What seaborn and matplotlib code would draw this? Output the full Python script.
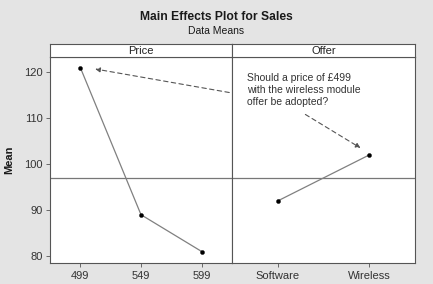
import numpy as np
import pandas as pd
import seaborn as sns
import matplotlib.pyplot as plt

# data means
price_levels = ['499', '549', '599']
price_means = [121, 89, 81]
offer_levels = ['Software', 'Wireless']
offer_means = [92, 102]
grand_mean = 97

sns.set_theme(style='white')
plt.rcParams['font.family'] = ['Liberation Sans', 'DejaVu Sans']

fig = plt.figure(figsize=(4.33, 2.84), dpi=100, facecolor='#e4e4e4')

fig.text(0.5, 0.94, 'Main Effects Plot for Sales', ha='center', va='center',
         fontsize=8.7, fontweight='bold', color='#1a1a1a')
fig.text(0.5, 0.892, 'Data Means', ha='center', va='center', fontsize=7.5, color='#1a1a1a')

bottom, top, strip_top = 1 - 263 / 284, 1 - 57 / 284, 1 - 44 / 284
x0, x1, x2 = 50 / 433, 232 / 433, 415 / 433

panels = [('Price', price_levels, price_means, x0, x1 - x0),
          ('Offer', offer_levels, offer_means, x1, x2 - x1)]
axes = []
for name, levels, means, left, width in panels:
    ax = fig.add_axes([left, bottom, width, top - bottom])
    df = pd.DataFrame({'level': levels, 'mean': means})
    ax.axhline(grand_mean, color='#777777', lw=0.9, zorder=1)
    sns.lineplot(data=df, x='level', y='mean', ax=ax, color='#808080', lw=0.9,
                 sort=False, zorder=2)
    sns.scatterplot(data=df, x='level', y='mean', ax=ax, color='black', s=9,
                    edgecolor='black', zorder=3)
    ax.set_xlim(-0.5, len(levels) - 0.5)
    ax.set_ylim(78.5, 123.3)
    ax.set_xlabel('')
    ax.set_ylabel('')
    ax.set_facecolor('white')
    for s in ax.spines.values():
        s.set_color('#555555')
        s.set_linewidth(0.8)
    ax.tick_params(axis='x', length=3, width=0.6, color='#555555', labelsize=8,
                   labelcolor='#333333', pad=3, bottom=True)
    ax.tick_params(axis='y', length=3, width=0.6, color='#555555', labelsize=8,
                   labelcolor='#333333', pad=2, left=True)
    ax.set_yticks([80, 90, 100, 110, 120])
    # strip header
    sax = fig.add_axes([left, top, width, strip_top - top])
    sax.set_xticks([])
    sax.set_yticks([])
    sax.set_facecolor('white')
    for s in sax.spines.values():
        s.set_color('#555555')
        s.set_linewidth(0.8)
    sax.text(0.5, 0.45, name, ha='center', va='center', fontsize=8, color='#222222',
             transform=sax.transAxes)
    axes.append(ax)

axes[1].tick_params(axis='y', left=False, labelleft=False)
axes[0].set_ylabel('Mean', fontsize=8, fontweight='bold', color='#1a1a1a', labelpad=7)

# annotation
axes[1].text(0.08, 0.92, 'Should a price of £499\nwith the wireless module\noffer be adopted?',
             transform=axes[1].transAxes, ha='left', va='top', fontsize=7.5,
             color='#333333', linespacing=1.2)
arrow_kw = dict(arrowstyle='-|>', linestyle=(0, (4, 3)), color='#555555', lw=0.8,
                mutation_scale=7)
axes[0].annotate('', xy=(0.2, 120.8), xycoords='data',
                 xytext=(232 / 433, 1 - 93 / 284), textcoords='figure fraction',
                 arrowprops=arrow_kw, annotation_clip=False)
axes[1].annotate('', xy=(0.93, 103.2), xycoords='data',
                 xytext=(303 / 433, 1 - 113 / 284), textcoords='figure fraction',
                 arrowprops=arrow_kw)

fig.savefig('out.png', dpi=100, facecolor=fig.get_facecolor())
